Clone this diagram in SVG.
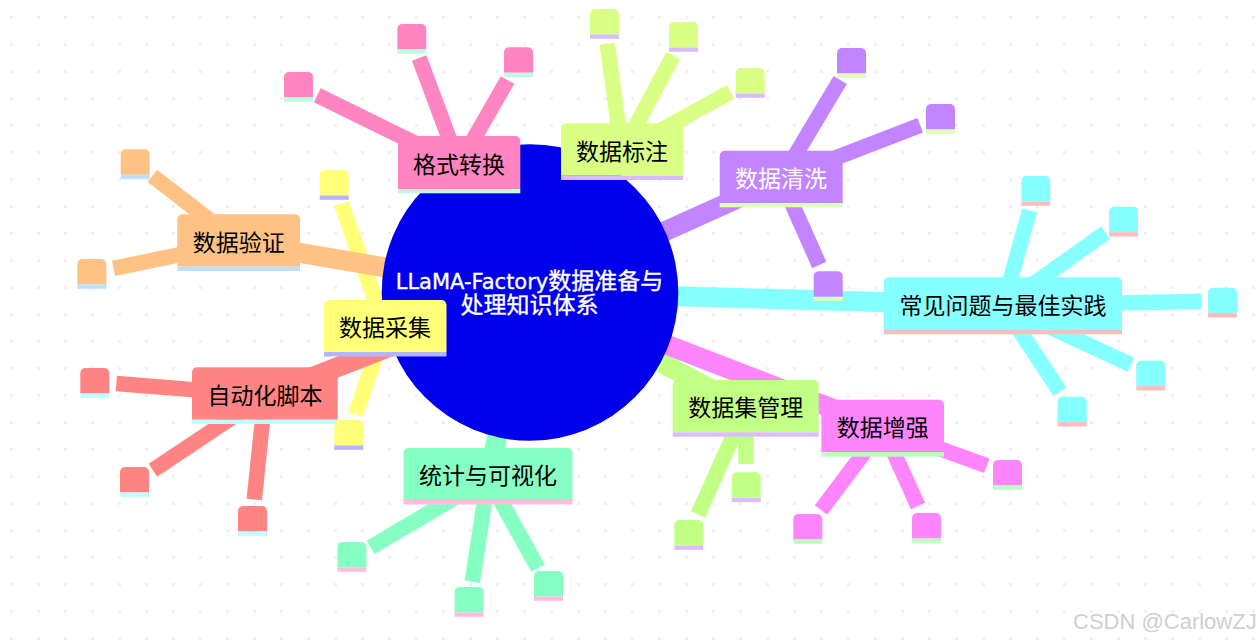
<svg xmlns="http://www.w3.org/2000/svg" width="1260" height="643" viewBox="0 0 1260 643">
<style>
text{font-family:"Noto Sans CJK SC","DejaVu Sans",sans-serif;font-size:23px;text-anchor:middle;fill:#000}
.w{fill:#fff}
.root{fill:#fff;stroke:#fff;stroke-width:.35px;font-family:"DejaVu Sans","Noto Sans CJK SC",sans-serif}
.lat{font-size:21px}
.wm{font-family:"Liberation Sans",Arial,sans-serif;font-size:22px;fill:#cfcfcf;text-anchor:start}
#edges line{fill:none}
.e1{stroke-width:20}.e2{stroke-width:15.500}
.s1{stroke:#ffff78}.s2{stroke:#d9ff85}.s3{stroke:#c285ff}.s4{stroke:#ff85ff}.s5{stroke:#ff85c2}.s6{stroke:#ff8585}.s7{stroke:#ffc285}.s8{stroke:#c2ff85}.s9{stroke:#85ffc2}.s10{stroke:#85ffff}
.f1{fill:#ffff78}.f2{fill:#d9ff85}.f3{fill:#c285ff}.f4{fill:#ff85ff}.f5{fill:#ff85c2}.f6{fill:#ff8585}.f7{fill:#ffc285}.f8{fill:#c2ff85}.f9{fill:#85ffc2}.f10{fill:#85ffff}
.b1{fill:#b4b4ff}.b2{fill:#d9bcff}.b3{fill:#deffbc}.b4{fill:#bcffbc}.b5{fill:#bcffde}.b6{fill:#bcffff}.b7{fill:#bcdeff}.b8{fill:#debcff}.b9{fill:#ffbcde}.b10{fill:#ffbcbc}
</style>
<defs>
<pattern id="dots" x="10" y="16" width="27" height="27" patternUnits="userSpaceOnUse"><rect width="3" height="3" fill="#f0f0f0"/></pattern>
<path id="leafbody" d="M0 25.500V5a5 5 0 0 1 5-5h19a5 5 0 0 1 5 5v20.500z"/>
<rect id="leafbar" x="0" y="25.500" width="29" height="4.300"/>
</defs>
<rect width="1260" height="643" fill="#fff"/>
<rect width="1260" height="643" fill="url(#dots)"/>
<g id="edges">
<g class="s1">
<line class="e1" x1="385" y1="328" x2="530" y2="292"/>
<line class="e2" x1="385" y1="328" x2="341.500" y2="203.700"/>
<line class="e2" x1="385" y1="328" x2="355.600" y2="414.400"/>
</g>
<g class="s2">
<line class="e1" x1="622" y1="151.700" x2="530" y2="292"/>
<line class="e2" x1="622" y1="151.700" x2="607.200" y2="43.800"/>
<line class="e2" x1="622" y1="151.700" x2="673.300" y2="55.500"/>
<line class="e2" x1="622" y1="151.700" x2="730.800" y2="91.700"/>
</g>
<g class="s3">
<line class="e1" x1="781" y1="179" x2="530" y2="292"/>
<line class="e2" x1="781" y1="179" x2="840.200" y2="80"/>
<line class="e2" x1="781" y1="179" x2="920.200" y2="125.300"/>
<line class="e2" x1="781" y1="179" x2="819.300" y2="265"/>
</g>
<g class="s8">
<line class="e1" x1="745.700" y1="408" x2="530" y2="292"/>
<line class="e2" x1="745.700" y1="408" x2="746" y2="464"/>
<line class="e2" x1="745.700" y1="408" x2="698" y2="514.500"/>
</g>
<g class="s4">
<line class="e1" x1="882.700" y1="428" x2="530" y2="292"/>
<line class="e2" x1="882.700" y1="428" x2="986.800" y2="465.800"/>
<line class="e2" x1="882.700" y1="428" x2="821" y2="510"/>
<line class="e2" x1="882.700" y1="428" x2="918" y2="506"/>
</g>
<g class="s5">
<line class="e1" x1="459" y1="164.700" x2="530" y2="292"/>
<line class="e2" x1="459" y1="164.700" x2="317.300" y2="95.300"/>
<line class="e2" x1="459" y1="164.700" x2="419.200" y2="58"/>
<line class="e2" x1="459" y1="164.700" x2="507.500" y2="80"/>
</g>
<g class="s6">
<line class="e1" x1="265" y1="395.500" x2="530" y2="292"/>
<line class="e2" x1="265" y1="395.500" x2="116.300" y2="383.500"/>
<line class="e2" x1="265" y1="395.500" x2="152.900" y2="470.300"/>
<line class="e2" x1="265" y1="395.500" x2="254.300" y2="499.500"/>
</g>
<g class="s7">
<line class="e1" x1="238.700" y1="242.500" x2="530" y2="292"/>
<line class="e2" x1="238.700" y1="242.500" x2="152.300" y2="175.800"/>
<line class="e2" x1="238.700" y1="242.500" x2="113.500" y2="268.300"/>
</g>
<g class="s9">
<line class="e1" x1="488" y1="478" x2="530" y2="292"/>
<line class="e2" x1="488" y1="478" x2="370.600" y2="547.300"/>
<line class="e2" x1="488" y1="478" x2="472.300" y2="581.800"/>
<line class="e2" x1="488" y1="478" x2="538" y2="568"/>
</g>
<g class="s10">
<line class="e1" x1="1003" y1="305.500" x2="530" y2="292"/>
<line class="e2" x1="1003" y1="305.500" x2="1029.700" y2="210.500"/>
<line class="e2" x1="1003" y1="305.500" x2="1105.500" y2="232.800"/>
<line class="e2" x1="1003" y1="305.500" x2="1201.300" y2="301.300"/>
<line class="e2" x1="1003" y1="305.500" x2="1131" y2="364.800"/>
<line class="e2" x1="1003" y1="305.500" x2="1060" y2="391.800"/>
</g>
</g>
<g id="root"><circle cx="530" cy="292.500" r="148.300" fill="#0000ec"/>
<text class="root" x="529.500" y="289"><tspan class="lat">LLaMA-Factory</tspan>数据准备与</text>
<text class="root" x="529.500" y="313">处理知识体系</text></g>

<g id="n-collect"><path class="f1" d="M324 352V305a5 5 0 0 1 5-5h112.500a5 5 0 0 1 5 5v47z"/><rect class="b1" x="324" y="352" width="122.500" height="4.500"/><text x="385" y="336.300">数据采集</text></g>
<g id="n-label"><path class="f2" d="M561 175.700V128.300a5 5 0 0 1 5-5h112.300a5 5 0 0 1 5 5v47.400z"/><rect class="b2" x="561" y="175.700" width="122.300" height="4.300"/><text x="622" y="159.600">数据标注</text></g>
<g id="n-clean"><path class="f3" d="M719.700 203V155.700a5 5 0 0 1 5-5h113a5 5 0 0 1 5 5V203z"/><rect class="b3" x="719.700" y="203" width="123" height="4.300"/><text class="w" x="781" y="187">数据清洗</text></g>
<g id="n-aug"><path class="f4" d="M821.300 452V404.700a5 5 0 0 1 5-5h112.700a5 5 0 0 1 5 5V452z"/><rect class="b4" x="821.300" y="452" width="122.700" height="4.700"/><text x="882.700" y="436">数据增强</text></g>
<g id="n-format"><path class="f5" d="M398 189V141a5 5 0 0 1 5-5h112.300a5 5 0 0 1 5 5v48z"/><rect class="b5" x="398" y="189" width="122.300" height="4.300"/><text x="459" y="173">格式转换</text></g>
<g id="n-auto"><path class="f6" d="M192 419.700V372.300a5 5 0 0 1 5-5h135.700a5 5 0 0 1 5 5v47.400z"/><rect class="b6" x="192" y="419.700" width="145.700" height="4.300"/><text x="265" y="403.600">自动化脚本</text></g>
<g id="n-verify"><path class="f7" d="M177.300 266.700V219.300a5 5 0 0 1 5-5h112.700a5 5 0 0 1 5 5v47.400z"/><rect class="b7" x="177.300" y="266.700" width="122.700" height="4.300"/><text x="238.700" y="250.500">数据验证</text></g>
<g id="n-manage"><path class="f8" d="M672.700 432.300V385a5 5 0 0 1 5-5h136a5 5 0 0 1 5 5v47.300z"/><rect class="b8" x="672.700" y="432.300" width="146" height="4.400"/><text x="745.700" y="416">数据集管理</text></g>
<g id="n-stats"><path class="f9" d="M403.600 500V453a5 5 0 0 1 5-5h158.900a5 5 0 0 1 5 5v47z"/><rect class="b9" x="403.600" y="500" width="168.900" height="4.500"/><text x="488" y="484">统计与可视化</text></g>
<g id="n-faq"><path class="f10" d="M883.700 330V282.300a5 5 0 0 1 5-5h228.300a5 5 0 0 1 5 5V330z"/><rect class="b10" x="883.700" y="330" width="238.300" height="4.300"/><text x="1003" y="313.600">常见问题与最佳实践</text></g>

<g id="l1a"><use href="#leafbody" class="f1" x="319.700" y="170"/><use href="#leafbar" class="b1" x="319.700" y="170"/></g>
<g id="l1b"><use href="#leafbody" class="f1" x="334.300" y="420"/><use href="#leafbar" class="b1" x="334.300" y="420"/></g>
<g id="l2a"><use href="#leafbody" class="f2" x="590" y="9"/><use href="#leafbar" class="b2" x="590" y="9"/></g>
<g id="l2b"><use href="#leafbody" class="f2" x="669" y="22"/><use href="#leafbar" class="b2" x="669" y="22"/></g>
<g id="l2c"><use href="#leafbody" class="f2" x="735.700" y="68"/><use href="#leafbar" class="b2" x="735.700" y="68"/></g>
<g id="l3a"><use href="#leafbody" class="f3" x="837" y="48"/><use href="#leafbar" class="b3" x="837" y="48"/></g>
<g id="l3b"><use href="#leafbody" class="f3" x="926" y="104"/><use href="#leafbar" class="b3" x="926" y="104"/></g>
<g id="l3c"><use href="#leafbody" class="f3" x="813.700" y="271.300"/><use href="#leafbar" class="b3" x="813.700" y="271.300"/></g>
<g id="l4a"><use href="#leafbody" class="f4" x="993" y="460"/><use href="#leafbar" class="b4" x="993" y="460"/></g>
<g id="l4b"><use href="#leafbody" class="f4" x="793.300" y="514"/><use href="#leafbar" class="b4" x="793.300" y="514"/></g>
<g id="l4c"><use href="#leafbody" class="f4" x="912" y="513"/><use href="#leafbar" class="b4" x="912" y="513"/></g>
<g id="l5a"><use href="#leafbody" class="f5" x="284" y="72"/><use href="#leafbar" class="b5" x="284" y="72"/></g>
<g id="l5b"><use href="#leafbody" class="f5" x="397.300" y="24"/><use href="#leafbar" class="b5" x="397.300" y="24"/></g>
<g id="l5c"><use href="#leafbody" class="f5" x="504" y="47.300"/><use href="#leafbar" class="b5" x="504" y="47.300"/></g>
<g id="l6a"><use href="#leafbody" class="f6" x="80.300" y="368"/><use href="#leafbar" class="b6" x="80.300" y="368"/></g>
<g id="l6b"><use href="#leafbody" class="f6" x="120" y="467"/><use href="#leafbar" class="b6" x="120" y="467"/></g>
<g id="l6c"><use href="#leafbody" class="f6" x="238" y="506"/><use href="#leafbar" class="b6" x="238" y="506"/></g>
<g id="l7a"><use href="#leafbody" class="f7" x="120.700" y="149.300"/><use href="#leafbar" class="b7" x="120.700" y="149.300"/></g>
<g id="l7b"><use href="#leafbody" class="f7" x="77.300" y="259"/><use href="#leafbar" class="b7" x="77.300" y="259"/></g>
<g id="l8a"><use href="#leafbody" class="f8" x="731.700" y="472.300"/><use href="#leafbar" class="b8" x="731.700" y="472.300"/></g>
<g id="l8b"><use href="#leafbody" class="f8" x="674.300" y="520"/><use href="#leafbar" class="b8" x="674.300" y="520"/></g>
<g id="l9a"><use href="#leafbody" class="f9" x="337.400" y="542"/><use href="#leafbar" class="b9" x="337.400" y="542"/></g>
<g id="l9b"><use href="#leafbody" class="f9" x="454.600" y="587"/><use href="#leafbar" class="b9" x="454.600" y="587"/></g>
<g id="l9c"><use href="#leafbody" class="f9" x="534" y="571"/><use href="#leafbar" class="b9" x="534" y="571"/></g>
<g id="l10a"><use href="#leafbody" class="f10" x="1021.300" y="176"/><use href="#leafbar" class="b10" x="1021.300" y="176"/></g>
<g id="l10b"><use href="#leafbody" class="f10" x="1109" y="206.700"/><use href="#leafbar" class="b10" x="1109" y="206.700"/></g>
<g id="l10c"><use href="#leafbody" class="f10" x="1208" y="287.700"/><use href="#leafbar" class="b10" x="1208" y="287.700"/></g>
<g id="l10d"><use href="#leafbody" class="f10" x="1136.300" y="360.700"/><use href="#leafbar" class="b10" x="1136.300" y="360.700"/></g>
<g id="l10e"><use href="#leafbody" class="f10" x="1057.700" y="396.700"/><use href="#leafbar" class="b10" x="1057.700" y="396.700"/></g>
<text class="wm" x="1073" y="629">CSDN @CarlowZJ</text>
</svg>
